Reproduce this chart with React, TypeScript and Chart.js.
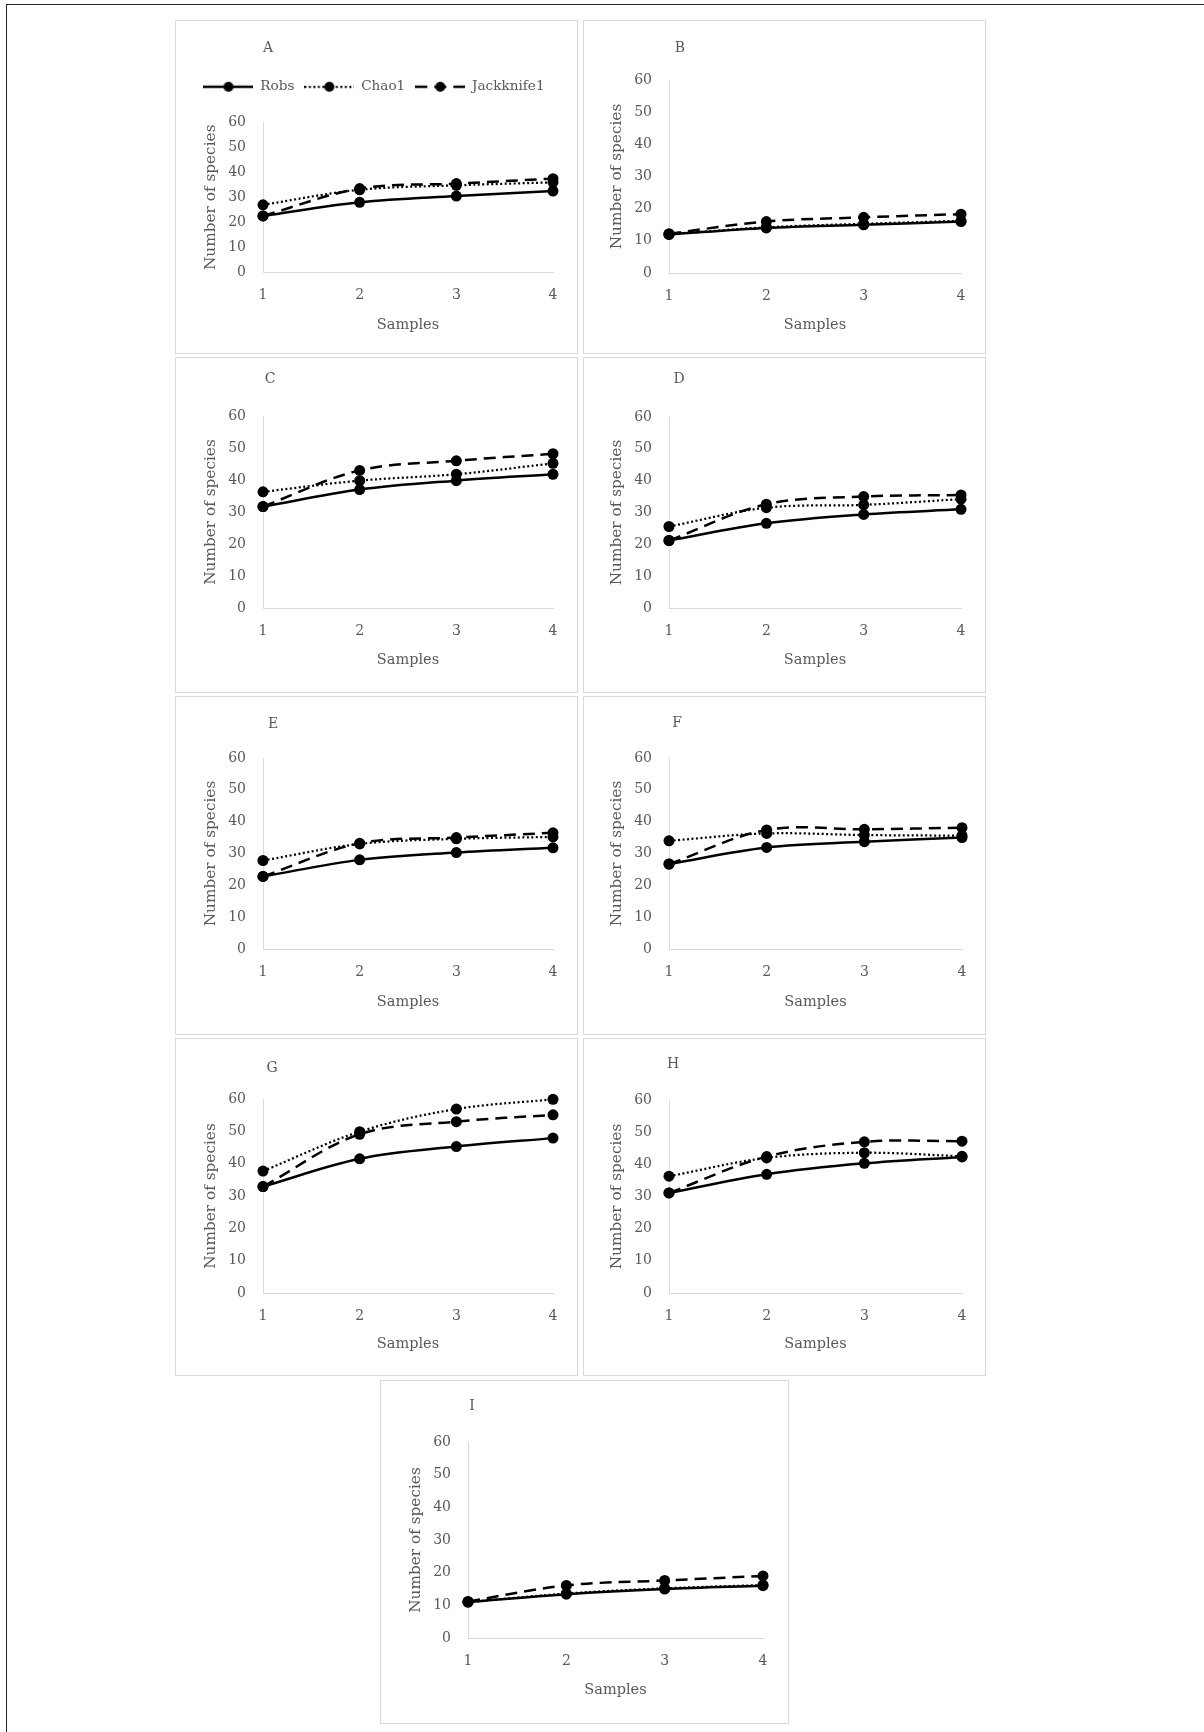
import React, { useEffect, useRef } from 'react';
import { Chart, registerables } from 'chart.js';

Chart.register(...registerables);

// ---------------- DATA ----------------
const SAMPLE_LABELS = ['1', '2', '3', '4'];
const SERIES_NAMES = ['Robs', 'Chao1', 'Jackknife1'];
const Y_MIN = 0;
const Y_MAX = 60;
const Y_STEP = 10;

const A_ROBS = [22.5, 28, 30.5, 32.5];
const A_CHAO1 = [27, 33, 34.8, 36];
const A_JACK = [22.5, 33.5, 35.5, 37.5];

const B_ROBS = [12, 14, 15, 16];
const B_CHAO1 = [12, 14.2, 15.3, 16.2];
const B_JACK = [12.2, 16, 17.3, 18.3];

const C_ROBS = [31.7, 37, 39.8, 41.8];
const C_CHAO1 = [36.3, 39.8, 41.8, 45.2];
const C_JACK = [31.7, 43, 46, 48.2];

const D_ROBS = [21.2, 26.6, 29.4, 31];
const D_CHAO1 = [25.6, 31.5, 32.4, 34.2];
const D_JACK = [21.2, 32.6, 35, 35.5];

const E_ROBS = [22.8, 28, 30.3, 31.8];
const E_CHAO1 = [27.8, 33, 34.6, 35.2];
const E_JACK = [22.8, 33.2, 35, 36.5];

const F_ROBS = [26.7, 31.9, 33.7, 35];
const F_CHAO1 = [34, 36.3, 35.8, 35.6];
const F_JACK = [26.7, 37.4, 37.6, 38.1];

const G_ROBS = [32.9, 41.5, 45.3, 47.9];
const G_CHAO1 = [37.7, 49.9, 56.9, 59.9];
const G_JACK = [32.9, 49.1, 53, 55.1];

const H_ROBS = [31.1, 36.9, 40.3, 42.3];
const H_CHAO1 = [36.3, 42, 43.6, 42.5];
const H_JACK = [31.1, 42.4, 47, 47.2];

const I_ROBS = [11, 13.4, 15, 16];
const I_CHAO1 = [11, 13.6, 15.2, 16.2];
const I_JACK = [11.2, 16.1, 17.6, 19];

// ---------------- LAYOUT ----------------
type PanelDef = {
  key: string;
  series: number[][];
  box: number[]; // left, top, right, bottom (page)
  plot: number[]; // left, top, right, bottom (page)
  letter: number[]; // center x, center y
  samplesFromBottom: number;
  legend?: boolean;
};

const PANELS: PanelDef[] = [
  { key: 'A', series: [A_ROBS, A_CHAO1, A_JACK], box: [175, 20, 578, 354], plot: [263, 122, 553, 272], letter: [268, 47], samplesFromBottom: 29, legend: true },
  { key: 'B', series: [B_ROBS, B_CHAO1, B_JACK], box: [583, 20, 986, 354], plot: [669, 80, 961, 273], letter: [680, 47], samplesFromBottom: 29 },
  { key: 'C', series: [C_ROBS, C_CHAO1, C_JACK], box: [175, 357, 578, 693], plot: [263, 416, 553, 608], letter: [270, 378], samplesFromBottom: 33 },
  { key: 'D', series: [D_ROBS, D_CHAO1, D_JACK], box: [583, 357, 986, 693], plot: [669, 417, 961, 608], letter: [679, 378], samplesFromBottom: 32.5 },
  { key: 'E', series: [E_ROBS, E_CHAO1, E_JACK], box: [175, 696, 578, 1035], plot: [263, 758, 553, 949], letter: [273, 723], samplesFromBottom: 32.7 },
  { key: 'F', series: [F_ROBS, F_CHAO1, F_JACK], box: [583, 696, 986, 1035], plot: [669, 758, 962, 949], letter: [677, 722], samplesFromBottom: 32.7 },
  { key: 'G', series: [G_ROBS, G_CHAO1, G_JACK], box: [175, 1038, 578, 1376], plot: [263, 1099, 553, 1293], letter: [272, 1067], samplesFromBottom: 31.7 },
  { key: 'H', series: [H_ROBS, H_CHAO1, H_JACK], box: [583, 1038, 986, 1376], plot: [669, 1100, 962, 1293], letter: [673, 1063], samplesFromBottom: 31.7 },
  { key: 'I', series: [I_ROBS, I_CHAO1, I_JACK], box: [380, 1380, 789, 1724], plot: [468, 1442, 763, 1638], letter: [472, 1405], samplesFromBottom: 34 },
];

const FONT = "'DejaVu Serif', 'Liberation Serif', serif";
const TEXT = '#595959';
const AXIS = '#d9d9d9';
const LEGEND_SHIFT_X = 10;

const STYLES = [
  { dash: [] as number[], width: 2.5 },
  { dash: [2, 2.5], width: 2.25 },
  { dash: [12, 7], width: 2.5 },
];

function makeLegendImg(dash: number[], width: number): HTMLCanvasElement {
  const c = document.createElement('canvas');
  c.width = 50;
  c.height = 12;
  const ctx = c.getContext('2d')!;
  ctx.strokeStyle = '#000';
  ctx.lineWidth = width;
  ctx.setLineDash(dash);
  ctx.beginPath();
  ctx.moveTo(0, 6);
  ctx.lineTo(50, 6);
  ctx.stroke();
  ctx.setLineDash([]);
  ctx.fillStyle = '#000';
  ctx.beginPath();
  ctx.arc(25, 6, 5, 0, Math.PI * 2);
  ctx.fill();
  return c;
}

const legendShiftPlugin = {
  id: 'legendShift',
  afterLayout(chart: any) {
    const lg = chart.legend;
    if (lg && lg.options && lg.options.display) {
      lg.left += LEGEND_SHIFT_X;
      lg.right += LEGEND_SHIFT_X;
    }
  },
};

function Panel({ p }: { p: PanelDef }) {
  const ref = useRef<HTMLCanvasElement | null>(null);
  const [bl, bt, br, bb] = p.box;
  const [pl, pt, pr, pb] = p.plot;
  const W = br - bl;
  const H = bb - bt;

  useEffect(() => {
    if (!ref.current) return;
    const yTitleSize = 15.3;
    const xTitleSize = 14.5;
    const yTitlePad = pl - 51.5 - bl - (yTitleSize * 1.2) / 2;
    const xTitlePad = p.samplesFromBottom - (xTitleSize * 1.2) / 2;

    const legendImgs = STYLES.map((s) => makeLegendImg(s.dash, s.width));

    const datasets = p.series.map((vals, i) => ({
      label: SERIES_NAMES[i],
      data: vals,
      xAxisID: 'x',
      yAxisID: 'y',
      borderColor: '#000',
      backgroundColor: '#000',
      borderWidth: STYLES[i].width,
      borderDash: STYLES[i].dash,
      pointRadius: 5.5,
      pointHoverRadius: 5.5,
      pointBackgroundColor: '#000',
      pointBorderColor: '#000',
      pointBorderWidth: 0,
      tension: 0.35,
      fill: false,
      clip: false as any,
    }));

    const scales: any = {
      x: {
        type: 'category',
        labels: SAMPLE_LABELS,
        offset: false,
        position: 'bottom',
        grid: { display: false, drawTicks: false },
        border: { display: true, color: AXIS, width: 1 },
        ticks: { color: TEXT, font: { family: FONT, size: 14 }, padding: 15, maxRotation: 0 },
        title: {
          display: true,
          text: 'Samples',
          color: TEXT,
          font: { family: FONT, size: xTitleSize },
          padding: { top: 0, bottom: xTitlePad },
        },
        afterFit: (s: any) => {
          s.height = bb - pb;
        },
      },
      y: {
        type: 'linear',
        min: Y_MIN,
        max: Y_MAX,
        position: 'left',
        grid: { display: false, drawTicks: false },
        border: { display: true, color: AXIS, width: 1 },
        ticks: { stepSize: Y_STEP, color: TEXT, font: { family: FONT, size: 14 }, padding: 17 },
        title: {
          display: true,
          text: 'Number of species',
          color: TEXT,
          font: { family: FONT, size: yTitleSize },
          padding: { top: yTitlePad, bottom: 0 },
        },
        afterFit: (s: any) => {
          s.width = pl - bl;
        },
      },
    };
    if (p.legend) {
      scales.spacer = {
        type: 'linear',
        axis: 'x',
        position: 'top',
        display: true,
        grid: { display: false, drawTicks: false },
        border: { display: false },
        ticks: { display: false },
        afterFit: (s: any) => {
          s.height = 19;
        },
      };
    }

    const chart = new Chart(ref.current, {
      type: 'line',
      data: { labels: SAMPLE_LABELS, datasets },
      plugins: [legendShiftPlugin],
      options: {
        responsive: false,
        maintainAspectRatio: false,
        devicePixelRatio: 1,
        animation: false,
        events: [],
        layout: {
          padding: { left: 0, top: p.legend ? 50 : pt - bt, right: br - pr, bottom: 0 },
        },
        scales,
        plugins: {
          tooltip: { enabled: false },
          title: { display: false },
          legend: {
            display: !!p.legend,
            position: 'top',
            labels: {
              usePointStyle: true,
              pointStyleWidth: 50,
              padding: 10,
              color: TEXT,
              font: { family: FONT, size: 13.6 },
              generateLabels: (ch: any) => {
                const base = (Chart.defaults.plugins.legend.labels as any).generateLabels(ch);
                return base.map((it: any, i: number) => ({ ...it, pointStyle: legendImgs[i], fontColor: TEXT }));
              },
            },
          },
        },
      } as any,
    });
    return () => chart.destroy();
  }, []);

  return (
    <>
      <div
        style={{
          position: 'absolute',
          left: bl,
          top: bt,
          width: W,
          height: H,
          border: '1px solid #d9d9d9',
          boxSizing: 'border-box',
          background: '#fff',
        }}
      />
      <canvas
        ref={ref}
        width={W}
        height={H}
        style={{ position: 'absolute', left: bl, top: bt, width: W, height: H }}
      />
      <div
        style={{
          position: 'absolute',
          left: p.letter[0],
          top: p.letter[1],
          transform: 'translate(-50%, -50%)',
          fontFamily: FONT,
          fontSize: 14,
          color: TEXT,
          lineHeight: 1,
        }}
      >
        {p.key}
      </div>
    </>
  );
}

export default function App() {
  return (
    <div
      style={{
        position: 'absolute',
        left: 0,
        top: 0,
        width: 1204,
        height: 1732,
        overflow: 'hidden',
        background: '#fff',
      }}
    >
      <div
        style={{
          position: 'absolute',
          left: 6,
          top: 4,
          width: 1220,
          height: 1760,
          borderTop: '1px solid #222',
          borderLeft: '1px solid #222',
          boxSizing: 'border-box',
        }}
      />
      {PANELS.map((p) => (
        <Panel key={p.key} p={p} />
      ))}
    </div>
  );
}
